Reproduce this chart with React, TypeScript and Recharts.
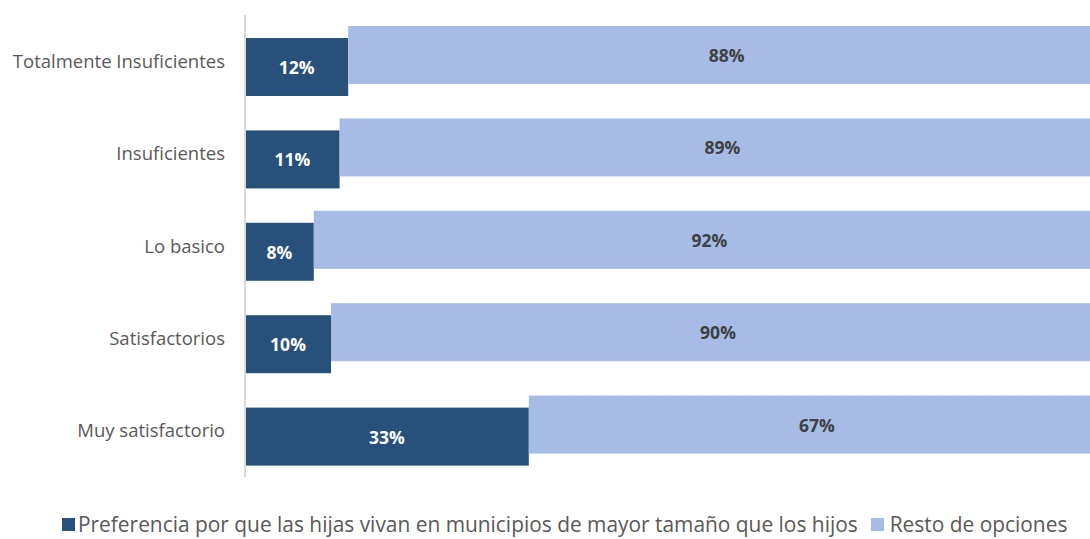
import React from 'react';
import { BarChart, Bar, XAxis, YAxis, Legend, LabelList } from 'recharts';

const categories = ['Totalmente Insuficientes', 'Insuficientes', 'Lo basico', 'Satisfactorios', 'Muy satisfactorio'];
const preferencia = [12, 11, 8, 10, 33];
const resto = [88, 89, 92, 90, 67];
const seriesNames = ['Preferencia por que las hijas vivan en municipios de mayor tamaño que los hijos', 'Resto de opciones'];

const data = categories.map((name, i) => ({ name, pref: preferencia[i], resto: resto[i] }));

const DARK = '#27517A';
const LIGHT = '#A6BCE7';
const FONT = '"Open Sans", sans-serif';

const makeShape = (dy: number, fill: string) => (props: any) => {
  const { x, y, width, height } = props;
  return <rect x={x} y={y + dy} width={width} height={height} fill={fill} />;
};

const makeLabel = (dy: number, color: string) => (props: any) => {
  const { x, y, width, height, value } = props;
  return (
    <text x={x + width / 2} y={y + height / 2 + dy} fill={color} textAnchor="middle" dominantBaseline="central"
      fontFamily={FONT} fontSize={17.5} fontWeight={700}>
      {value}%
    </text>
  );
};

const renderLegend = () => (
  <div style={{ display: 'flex', alignItems: 'center', fontFamily: FONT, fontSize: 20.9, lineHeight: '24px', color: '#595959', whiteSpace: 'nowrap' }}>
    <span style={{ display: 'inline-block', width: 13, height: 13, background: DARK, marginRight: 3 }} />
    <span style={{ marginRight: 13 }}>{seriesNames[0]}</span>
    <span style={{ display: 'inline-block', width: 13, height: 13, background: LIGHT, marginRight: 6 }} />
    <span>{seriesNames[1]}</span>
  </div>
);

export default function App() {
  return (
    <div style={{ position: 'absolute', left: 0, top: 0, width: 1090, height: 539, overflow: 'hidden', background: '#fff' }}>
      <BarChart width={1110} height={539} data={data} layout="vertical" barGap={0}
        margin={{ top: 15, right: 5, bottom: 38, left: 0 }}>
        <XAxis type="number" domain={[0, 100]} hide />
        <YAxis type="category" dataKey="name" width={245} axisLine={{ stroke: '#D9D9D9', strokeWidth: 2 }}
          tickLine={false} tickSize={0} tickMargin={20}
          tick={{ fill: '#595959', fontSize: 18.5, fontFamily: FONT }} />
        <Legend content={renderLegend} height={24} wrapperStyle={{ position: 'absolute', left: 62, top: 512, width: 1040, height: 24 }} />
        <Bar dataKey="pref" name={seriesNames[0]} stackId="a" barSize={58} fill={DARK}
          shape={makeShape(6, DARK)} isAnimationActive={false}>
          <LabelList dataKey="pref" content={makeLabel(6, '#FFFFFF')} />
        </Bar>
        <Bar dataKey="resto" name={seriesNames[1]} stackId="a" barSize={58} fill={LIGHT}
          shape={makeShape(-6, LIGHT)} isAnimationActive={false}>
          <LabelList dataKey="resto" content={makeLabel(-6, '#404040')} />
        </Bar>
      </BarChart>
    </div>
  );
}
